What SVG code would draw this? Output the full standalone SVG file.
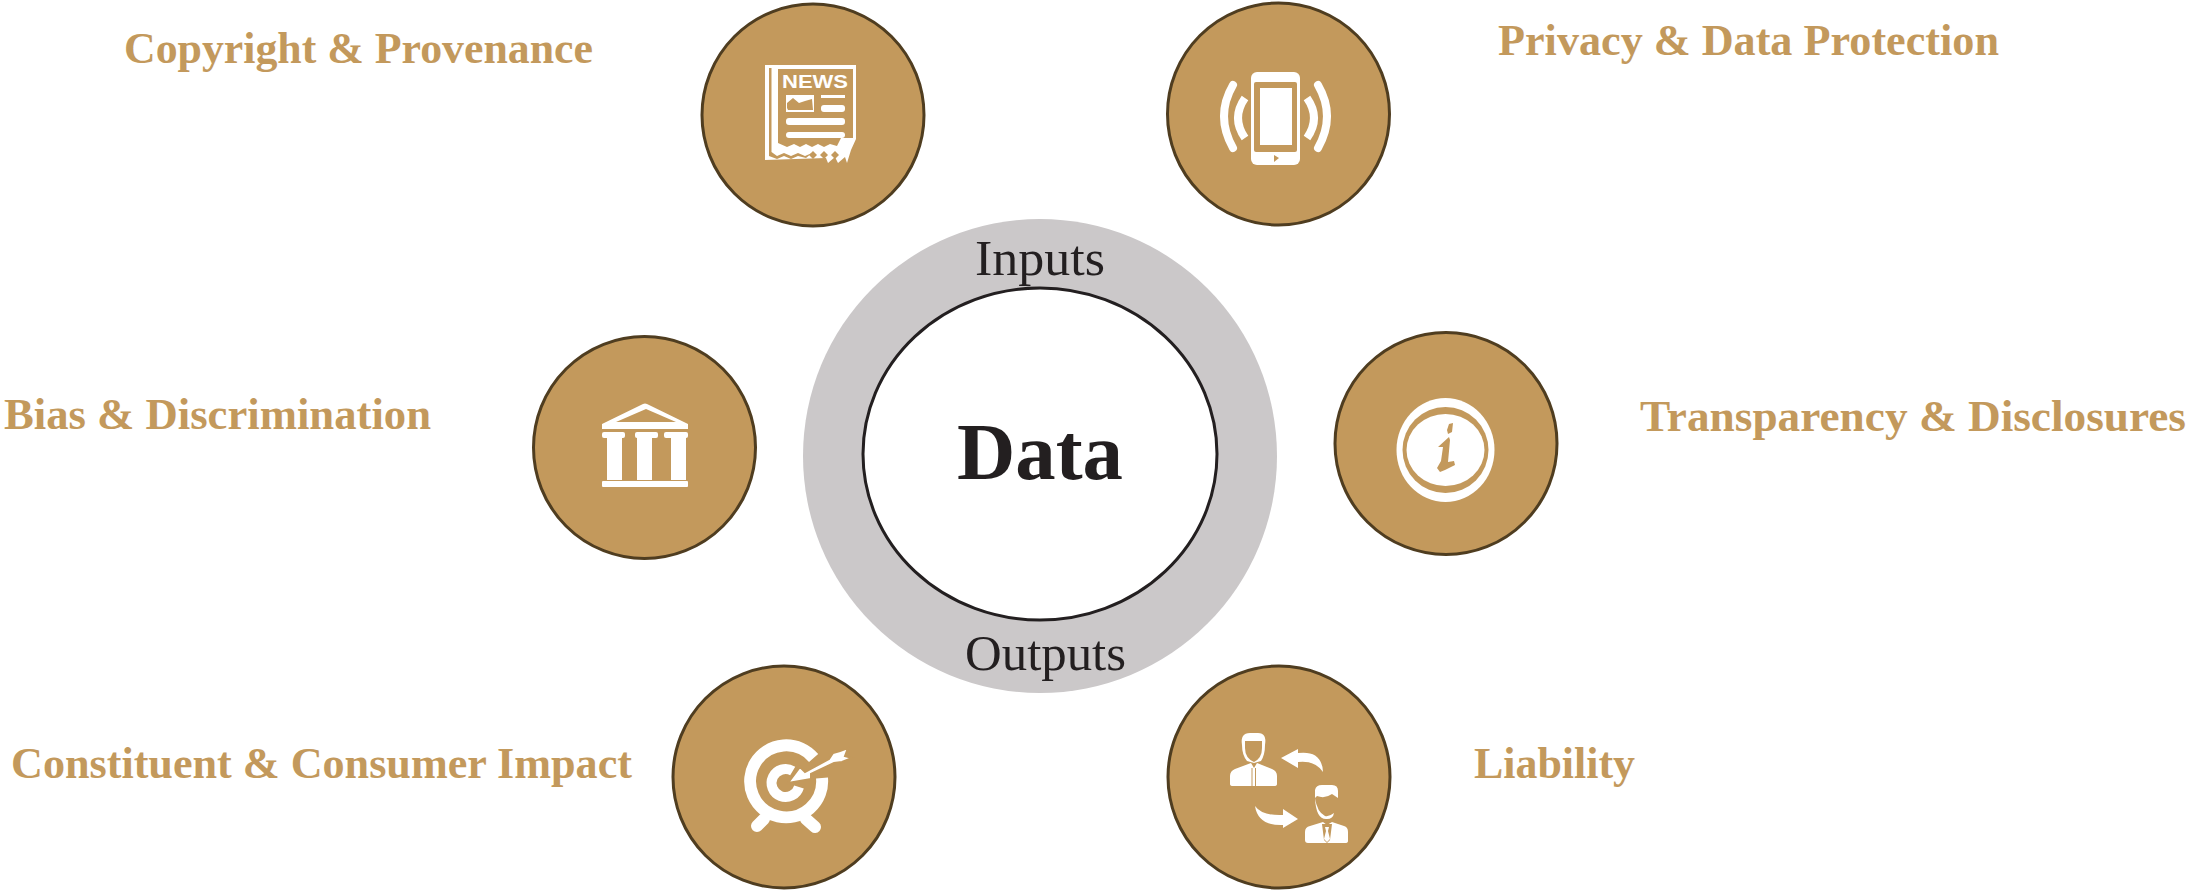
<svg xmlns="http://www.w3.org/2000/svg" width="2187" height="890" viewBox="0 0 2187 890">
<style>
.c{fill:#c3995c;stroke:#4f3d20;stroke-width:3}
.l{font:bold 44px "Liberation Serif",serif;fill:#c3995c}
.s{font:50px "Liberation Serif",serif;fill:#231f20}
.w{fill:#fff}
.g{fill:#c3995c}
.o{fill:none;stroke:#fff}
</style>
<rect width="2187" height="890" fill="#fff"/>
<g id="hub">
<circle cx="1040" cy="456" r="237" fill="#cbc8c9"/>
<ellipse cx="1040" cy="454" rx="177" ry="166" fill="#fff" stroke="#231f20" stroke-width="3"/>
<text x="975" y="275" class="s" textLength="130" lengthAdjust="spacingAndGlyphs">Inputs</text>
<text x="965" y="670" class="s" textLength="161" lengthAdjust="spacingAndGlyphs">Outputs</text>
<text x="957" y="479" textLength="166" lengthAdjust="spacingAndGlyphs" style="font:bold 80px 'Liberation Serif',serif;fill:#231f20">Data</text>
</g>
<g id="connectors"></g>
<g id="copyright">
<circle class="c" cx="813" cy="115" r="111"/>
<path class="w" d="M765 65H856V139L851 150 847 163 845 157 838 163 835 157 828 163 826 158 765 160Z"/>
<path class="g" d="M769 68H771.500V152L777 156 784 153 791 156 798 153 805 156 812 153 806 158 798 156 791 159 784 156 777 159 769 156Z"/>
<path class="g" d="M778 69H853V138H841L837 146 830 144 824 147 818 144 812 147 806 144 800 147 794 144 787 147 778 143Z"/>
<path class="g" d="M813 151l4 4-4 4-4-4zM824 151l4 4-4 4-4-4zM835 151l4 4-4 4-4-4z"/>
<text x="782" y="88" textLength="66" lengthAdjust="spacingAndGlyphs" style="font:bold 18px 'Liberation Sans',sans-serif;fill:#fff">NEWS</text>
<rect class="w" x="786" y="95" width="28" height="17"/>
<path class="g" d="M787 108V103L793 98 799 103 805 101 812 99 813 110 788 110Z"/>
<rect class="w" x="821" y="95" width="24" height="3"/>
<rect class="w" x="821" y="105" width="24" height="7" rx="3"/>
<rect class="w" x="786" y="118" width="59" height="7" rx="3"/>
<rect class="w" x="786" y="132" width="59" height="6" rx="3"/>
</g>
<g id="privacy">
<circle class="c" cx="1278.500" cy="114" r="111"/>
<rect class="w" x="1251" y="72" width="49" height="93" rx="6"/>
<rect class="g" x="1254" y="82" width="43" height="70" rx="2"/>
<rect class="w" x="1260" y="88" width="32" height="57"/>
<path class="g" d="M1274 155l5 3-5 4z"/>
<path class="o" stroke-width="8" stroke-linecap="round" d="M1233 85Q1215 116 1233 148M1318 85Q1336 116 1318 148"/>
<path class="o" stroke-width="8" d="M1245 98Q1231 118 1245 138M1307 98Q1321 118 1307 138"/>
</g>
<g id="bias">
<circle class="c" cx="644.500" cy="447.500" r="111"/>
<path class="w" d="M602 424L643 404Q645 403 647 404L688 424V429H602Z"/>
<path class="g" d="M646 409L616 422H676Z"/>
<rect class="w" x="602" y="432" width="23" height="6" rx="2"/>
<rect class="w" x="635" y="432" width="23" height="6" rx="2"/>
<rect class="w" x="664" y="432" width="24" height="6" rx="2"/>
<rect class="w" x="607" y="438" width="15" height="42"/>
<rect class="w" x="637" y="438" width="15" height="42"/>
<rect class="w" x="671" y="438" width="15" height="42"/>
<rect class="w" x="602" y="481" width="86" height="6" rx="1"/>
</g>
<g id="transparency">
<circle class="c" cx="1446" cy="443.500" r="111"/>
<ellipse class="w" cx="1445.500" cy="450" rx="49" ry="52"/>
<ellipse class="g" cx="1445.500" cy="450" rx="43" ry="43"/>
<ellipse class="w" cx="1445.500" cy="450" rx="39" ry="36"/>
<path class="g" d="M1449 424L1453 423 1452 432 1448 434 1447 430ZM1438 447L1449 437 1450 440 1448 462 1454 461 1455 465 1445 470 1440 472 1437 468 1441 461 1443 447Z"/>
</g>
<g id="impact">
<circle class="c" cx="784" cy="777" r="111"/>
<path class="o" stroke-width="12" d="M813.600 758A36 36 0 1 0 822 778"/>
<path class="o" stroke-width="10" d="M792.700 771A14 14 0 1 0 799 787"/>
<path class="o" stroke-width="12" stroke-linecap="round" d="M764 819L757 826M806 819L815 827"/>
<path class="w" stroke="#c3995c" stroke-width="2" d="M788 783L800 767 805 772 829 759 833 753 840 751 848 748 845 756 852 758 842 762 834 763 811 774 811 779Z"/>
</g>
<g id="liability">
<circle class="c" cx="1279" cy="777" r="111"/>
<path class="w" d="M1242 745Q1240 733 1250 733H1258Q1267 733 1265 745Q1265 755 1261 761L1254 763 1247 761Q1242 755 1242 745Z"/>
<path class="g" d="M1245 741H1262V748Q1262 758 1254 762Q1245 758 1245 748Z"/>
<path class="w" d="M1230 784V776Q1230 771 1235 769L1251 763 1254 768 1257 763 1272 769Q1277 771 1277 776V784Q1277 786 1274 786H1233Q1230 786 1230 784Z"/>
<path fill="none" stroke="#c3995c" d="M1252 768V786M1255.500 768V786"/>
<path class="w" d="M1281 758L1298 749V753Q1322 750 1323 772Q1315 760 1298 762V768Z"/>
<path class="w" d="M1255 806Q1262 816 1283 815V809L1298 819 1283 828V825Q1258 826 1255 806Z"/>
<path class="w" d="M1315 790Q1316 785 1322 785H1332Q1338 785 1338 791V798L1332 794Q1325 799 1317 796L1315 798Z"/>
<path class="w" d="M1315 798Q1316 820 1327 819Q1333 819 1334 813Q1329 817 1325 816Q1317 812 1315 798Z"/>
<path class="w" d="M1305 840V832Q1305 827 1310 826L1323 822 1327 825 1332 822 1344 826Q1348 827 1348 832V841Q1348 843 1345 843H1308Q1305 843 1305 840Z"/>
<path class="g" d="M1322 824H1332L1330 840 1327 843 1324 840Z"/>
<path class="w" d="M1325 827h4l-1 4 2 8-3 3-3-3 2-8z"/>
</g>
<g id="labels">
<text class="l" x="124" y="63" textLength="469" lengthAdjust="spacingAndGlyphs">Copyright &amp; Provenance</text>
<text class="l" x="1498" y="55" textLength="501" lengthAdjust="spacingAndGlyphs">Privacy &amp; Data Protection</text>
<text class="l" x="4" y="429" textLength="427" lengthAdjust="spacingAndGlyphs">Bias &amp; Discrimination</text>
<text class="l" x="1640" y="431" textLength="546" lengthAdjust="spacingAndGlyphs">Transparency &amp; Disclosures</text>
<text class="l" x="11" y="778" textLength="621" lengthAdjust="spacingAndGlyphs">Constituent &amp; Consumer Impact</text>
<text class="l" x="1474" y="778" textLength="161" lengthAdjust="spacingAndGlyphs">Liability</text>
</g>
</svg>
